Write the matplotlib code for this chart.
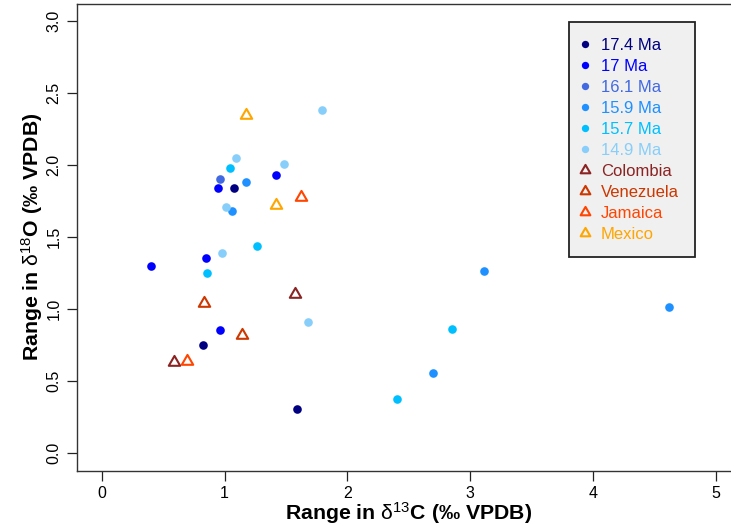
import matplotlib
matplotlib.use("Agg")
import matplotlib.pyplot as plt
from matplotlib.path import Path

plt.rcParams["font.family"] = ["Liberation Sans", "DejaVu Sans"]
plt.rcParams["mathtext.fontset"] = "custom"
plt.rcParams["mathtext.rm"] = "Liberation Sans"
plt.rcParams["mathtext.it"] = "Liberation Sans"
plt.rcParams["mathtext.default"] = "rm"

# ranges in d13C / d18O (permil VPDB)
ages = ["17.4 Ma", "17 Ma", "16.1 Ma", "15.9 Ma", "15.7 Ma", "14.9 Ma"]
age_colors = ["#000080", "#0000FF", "#4169E1", "#1E90FF", "#00BFFF", "#87CEFA"]
age_c13 = [
    [1.08, 0.82, 1.59],
    [1.42, 0.95, 0.85, 0.40, 0.96],
    [0.96],
    [1.17, 1.06, 3.11, 4.62, 2.70],
    [1.04, 1.26, 0.86, 2.85, 2.40],
    [1.79, 1.09, 1.48, 1.01, 0.98, 1.68],
]
age_o18 = [
    [1.84, 0.75, 0.30],
    [1.93, 1.84, 1.35, 1.30, 0.85],
    [1.90],
    [1.88, 1.68, 1.26, 1.01, 0.55],
    [1.98, 1.44, 1.25, 0.86, 0.37],
    [2.38, 2.05, 2.01, 1.71, 1.39, 0.91],
]

sites = ["Colombia", "Venezuela", "Jamaica", "Mexico"]
site_colors = ["#8B2323", "#CD3700", "#FF4500", "#FFA500"]
site_c13 = [[1.57, 0.59], [0.83, 1.14], [1.62, 0.69], [1.17, 1.42]]
site_o18 = [[1.10, 0.63], [1.04, 0.82], [1.78, 0.64], [2.35, 1.72]]

# equilateral triangle centred on its centroid (like R pch=2)
tri = Path([(0, 1), (-0.866, -0.5), (0.866, -0.5), (0, 1)],
           [Path.MOVETO, Path.LINETO, Path.LINETO, Path.CLOSEPOLY])

W, H = 731, 525
fig = plt.figure(figsize=(W / 100, H / 100), dpi=100)
# plot region runs off the right edge of the image, as in the original
ax = fig.add_axes([77.3 / W, (H - 470.5) / H, (740.3 - 77.3) / W, (470.5 - 4) / H])

for lab, col, xs, ys in zip(ages, age_colors, age_c13, age_o18):
    ax.plot(xs, ys, "o", ms=6.2, mew=0, color=col, label=lab, linestyle="none")

for lab, col, xs, ys in zip(sites, site_colors, site_c13, site_o18):
    ax.plot(xs, ys, marker=tri, ms=9.5, mew=1.5, mfc="none", mec=col,
            label=lab, linestyle="none")

ax.set_xlim(-0.2, 5.2)
ax.set_ylim(-0.125, 3.12)
ax.set_xticks([0, 1, 2, 3, 4, 5])
ax.set_yticks([0, 0.5, 1, 1.5, 2, 2.5, 3])
ax.set_yticklabels(["0.0", "0.5", "1.0", "1.5", "2.0", "2.5", "3.0"],
                   rotation=90, va="center")
ax.tick_params(direction="out", length=7.5, width=0.9, color="#222222",
               labelsize=11.5, pad=4)
for s in ax.spines.values():
    s.set_linewidth(1.0)
    s.set_color("#333333")

ax.set_xlabel(r"Range in $\delta^{13}$C (‰ VPDB)", fontsize=15.3,
              fontweight="bold", labelpad=-1)
ax.set_ylabel(r"Range in $\delta^{18}$O (‰ VPDB)", fontsize=15.3,
              fontweight="bold", labelpad=1)

leg = ax.legend(loc="upper left", bbox_to_anchor=(569 / W, 1 - 21.7 / H),
                bbox_transform=fig.transFigure, borderaxespad=0,
                fontsize=12, numpoints=1, handlelength=0.0, markerscale=0.85,
                handletextpad=0.95, labelspacing=0.36, borderpad=0.95,
                fancybox=False, framealpha=1,
                labelcolor=age_colors + site_colors)
leg.get_frame().set_facecolor("#F0F0F0")
leg.get_frame().set_edgecolor("#222222")
leg.get_frame().set_linewidth(1.3)

fig.savefig("out.png", dpi=100)
